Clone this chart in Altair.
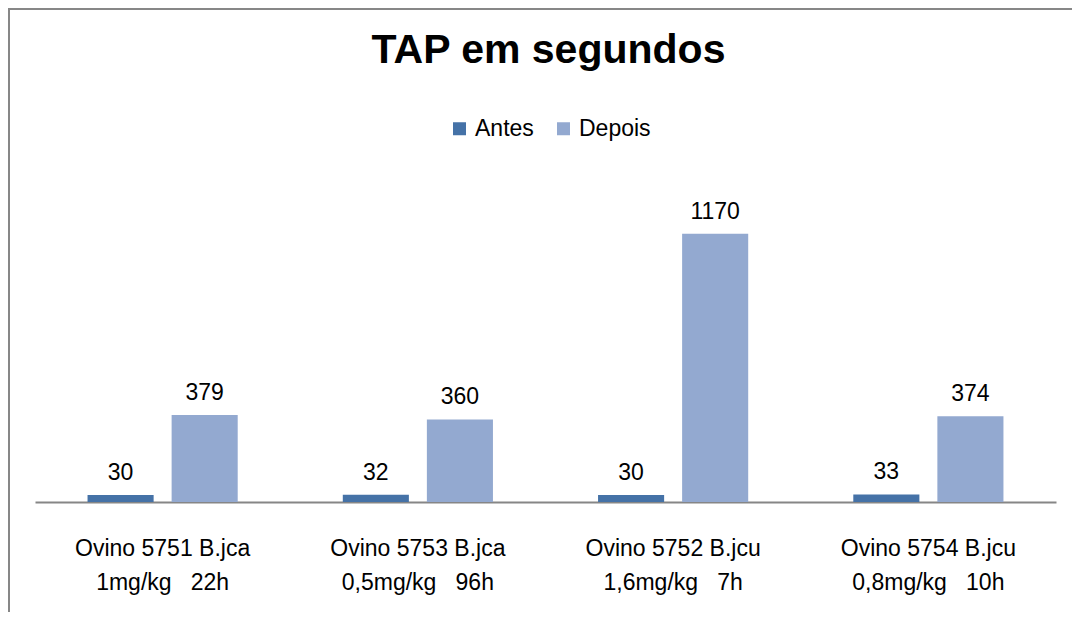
import altair as alt
import pandas as pd

# ---- data ----
line1 = ["Ovino 5751 B.jca", "Ovino 5753 B.jca", "Ovino 5752 B.jcu", "Ovino 5754 B.jcu"]
line2 = ["1mg/kg   22h", "0,5mg/kg   96h", "1,6mg/kg   7h", "0,8mg/kg   10h"]
series = ["Antes", "Depois"]
antes = [30, 32, 30, 33]
depois = [379, 360, 1170, 374]
colors = ["#4572A7", "#93A9D0"]

NB = "\u00a0"
cats = [a + "\n" + b.replace(" ", NB) for a, b in zip(line1, line2)]

rows = []
for c, a, d in zip(cats, antes, depois):
    rows.append({"grupo": c, "serie": "Antes", "valor": a})
    rows.append({"grupo": c, "serie": "Depois", "valor": d})
df = pd.DataFrame(rows)

FONT = "Liberation Sans"

x = alt.X(
    "grupo:N",
    sort=cats,
    scale=alt.Scale(domain=cats, paddingInner=0, paddingOuter=0),
    axis=alt.Axis(
        title=None,
        labelExpr="split(datum.label, '\\n')",
        labelFont=FONT,
        labelFontSize=23,
        labelColor="#000000",
        labelLineHeight=34,
        labelPadding=35,
        labelAngle=0,
        labelLimit=400,
        ticks=False,
        domainColor="#868686",
        domainWidth=2,
        grid=False,
    ),
)
xo = alt.XOffset("serie:N", sort=series,
                 scale=alt.Scale(domain=series, paddingInner=0.214, paddingOuter=0.625))
y = alt.Y("valor:Q", scale=alt.Scale(domain=[0, 1400]), axis=None)

bars = alt.Chart(df).mark_bar().encode(
    x=x,
    xOffset=xo,
    y=y,
    color=alt.Color(
        "serie:N",
        scale=alt.Scale(domain=series, range=colors),
        legend=alt.Legend(
            title=None,
            orient="none",
            direction="horizontal",
            legendX=413,
            legendY=-64,
            symbolType="square",
            symbolSize=169,
            symbolStrokeWidth=0,
            labelFont=FONT,
            labelFontSize=23,
            labelColor="#000000",
            labelOffset=4,
            columnPadding=18,
        ),
    ),
)

labels = alt.Chart(df).mark_text(
    baseline="alphabetic", dy=-15, font=FONT, fontSize=23, color="#000000"
).encode(x=x, xOffset=xo, y=y, text="valor:Q")

frame = alt.Chart(alt.Data(values=[{}])).mark_rect(
    fill="transparent", stroke="#878787", strokeWidth=2
).encode(x=alt.value(-26), x2=alt.value(2000), y=alt.value(-172), y2=alt.value(2000))

chart = alt.layer(frame, bars, labels).properties(
    width=1021,
    height=321,
    background="#FFFFFF",
    title=alt.TitleParams(
        "TAP em segundos",
        font=FONT,
        fontSize=41,
        fontWeight="bold",
        color="#000000",
        anchor="middle",
        baseline="alphabetic",
        offset=-96,
        dx=3,
    ),
    padding={"left": 27, "top": 173, "right": 16, "bottom": 110},
    autosize=alt.AutoSizeParams(type="none"),
).configure_view(strokeWidth=0, stroke="transparent")

chart.save("out.html", embed_options={"renderer": "svg", "actions": False})
